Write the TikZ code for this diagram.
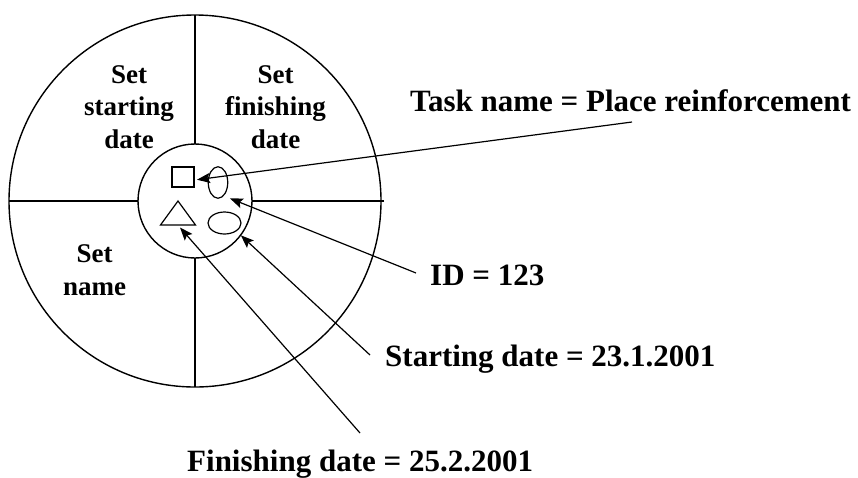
\documentclass[tikz,border=0pt]{standalone}
\usepackage{fontspec}
\setmainfont{Liberation Serif}
\usetikzlibrary{arrows.meta,calc,shapes.geometric}

\begin{document}
\begin{tikzpicture}[x=1pt,y=-1pt,
  ring/.style={draw, circle, line width=1.4pt, inner sep=0pt, outer sep=0pt},
  spoke/.style={line width=1.4pt},
  glyph/.style={draw, line width=1.2pt, inner sep=0pt},
  pointer/.style={line width=1.2pt, -{Stealth[length=13pt,width=10pt,inset=2.5pt]}},
  biglabel/.style={inner sep=0pt, anchor=base west, font=\bfseries\fontsize{31}{37}\selectfont},
  sector/.style={inner sep=0pt, align=center, anchor=base, font=\bfseries\fontsize{27}{32.5}\selectfont},
]
\useasboundingbox (0,0) rectangle (858,477);

% wheel with hub and four spokes
\node[ring, minimum size=372pt] (wheel) at (195,201) {};
\node[ring, minimum size=114pt] (hub) at (195,201) {};
\draw[spoke] (wheel.north) -- (hub.north);
\draw[spoke] (wheel.south) -- (hub.south);
\draw[spoke] (wheel.west) -- (hub.west);
\draw[spoke] ([xshift=3pt]wheel.east) -- (hub.east);

% sector captions (anchored at the baseline of their last line)
\node[sector] (sstart) at (129,148) {Set\\starting\\date};
\node[sector] (sfinish) at (275.5,148) {Set\\finishing\\date};
\node[sector] (sname) at (94.5,295) {Set\\name};

% symbols in the hub
\node[glyph, rectangle, minimum width=22pt, minimum height=20pt, outer sep=3pt] (namebox) at (183,177) {};
\node[glyph, ellipse, minimum width=19.5pt, minimum height=31.5pt, outer sep=7pt] (idoval) at (218,182.5) {};
\node[glyph, ellipse, minimum width=33pt, minimum height=22pt, outer sep=6.5pt] (startoval) at (224.5,223) {};
\draw[line width=1.2pt, line join=miter] (178,201) coordinate (apex) -- (160.5,225) -- (195.5,225) -- cycle;
\coordinate (trifoot) at (180,227.5);

% attribute labels
\node[biglabel] (tasklbl) at (410,111) {Task name = Place reinforcement};
\node[biglabel] (idlbl) at (430,285) {ID = 123};
\node[biglabel] (startlbl) at (385,366) {Starting date = 23.1.2001};
\node[biglabel] (finishlbl) at (187,471) {Finishing date = 25.2.2001};

\coordinate (taskfoot) at ([shift={(222,11)}]tasklbl.base west);
\coordinate (idfoot) at ([shift={(-14,-12)}]idlbl.base west);
\coordinate (startfoot) at ([shift={(-15,-11)}]startlbl.base west);
\coordinate (finishfoot) at ([shift={(173,-38)}]finishlbl.base west);

% pointers from labels to symbols
\draw[pointer] (taskfoot) -- (namebox.-11);
\draw[pointer] (idfoot) -- (idoval.-53);
\draw[pointer] (startfoot) -- (startoval.-37);
\draw[pointer] (finishfoot) -- (trifoot);
\end{tikzpicture}
\end{document}
